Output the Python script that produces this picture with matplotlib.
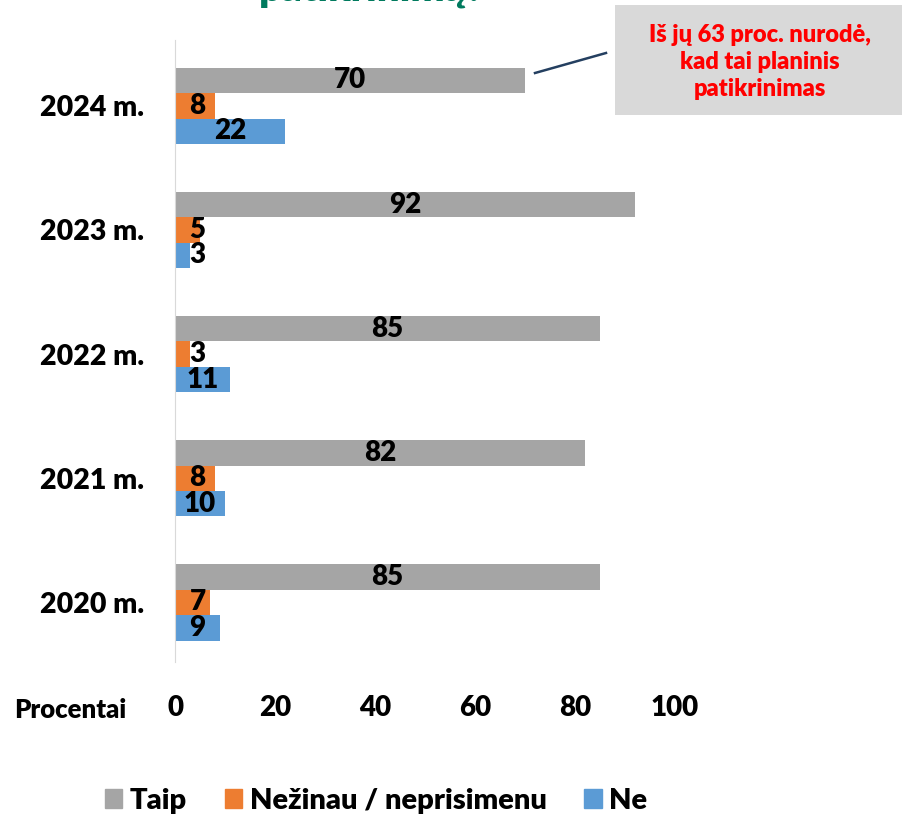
import matplotlib
matplotlib.use("Agg")
import matplotlib.pyplot as plt
from matplotlib.patches import Patch

years = ["2020 m.", "2021 m.", "2022 m.", "2023 m.", "2024 m."]
taip = [85, 82, 85, 92, 70]
nezinau = [7, 8, 3, 5, 8]
ne = [9, 10, 11, 3, 22]
x_ticks = [0, 20, 40, 60, 80, 100]

GRAY = "#A5A5A5"
ORANGE = "#ED7D31"
BLUE = "#5B9BD5"
WT = "heavy"

plt.rcParams["font.family"] = ["Lato", "DejaVu Sans"]

fig = plt.figure(figsize=(9.02, 8.14), dpi=100)
W, H = 902, 814
ax = fig.add_axes([175 / W, 1 - 662 / H, 500 / W, 622 / H])

bh = 0.205
ys = list(range(len(years)))
series = [(taip, GRAY, bh), (nezinau, ORANGE, 0), (ne, BLUE, -bh)]
for vals, color, off in series:
    pos = [y + off for y in ys]
    ax.barh(pos, vals, height=bh, color=color)
    for p, v in zip(pos, vals):
        ax.text(max(v / 2, 4.5), p, str(v), ha="center", va="center",
                fontsize=20, fontweight=WT, color="black")

ax.set_xlim(0, 100)
ax.set_ylim(-0.48, 4.53)
ax.set_yticks(ys)
ax.set_yticklabels(years, fontsize=20.5, fontweight=WT)
ax.set_xticks(x_ticks)
ax.set_xticklabels([str(t) for t in x_ticks], fontsize=20, fontweight=WT)
ax.tick_params(axis="both", length=0)
ax.tick_params(axis="x", pad=24)
ax.tick_params(axis="y", pad=22)
for s in ["top", "right", "bottom"]:
    ax.spines[s].set_visible(False)
ax.spines["left"].set_color("#D9D9D9")

fig.text(70 / W, 1 - 710 / H, "Procentai", ha="center", va="center",
         fontsize=18.5, fontweight=WT)

# title, cut off at the top as in the source
fig.text(372 / W, 1 - 1 / H, "patikrinimą?", ha="center", va="baseline",
         fontsize=29, fontweight=WT, color="#007A5E")

# callout
fig.add_artist(plt.Rectangle((615 / W, 1 - 115 / H), 300 / W, 110 / H,
                             transform=fig.transFigure, facecolor="#D9D9D9",
                             edgecolor="none"))
fig.text(760 / W, 1 - 62 / H,
         "Iš jų 63 proc. nurodė,\nkad tai planinis\npatikrinimas",
         ha="center", va="center", fontsize=17, fontweight=WT, color="#FF0000",
         linespacing=1.3)
fig.add_artist(plt.Line2D([535 / W, 606 / W], [1 - 73 / H, 1 - 53 / H],
                          color="#243F60", linewidth=1.8))

handles = [Patch(color=GRAY, label="Taip"),
           Patch(color=ORANGE, label="Nežinau / neprisimenu"),
           Patch(color=BLUE, label="Ne")]
fig.legend(handles=handles, loc="center", bbox_to_anchor=(376 / W, 1 - 801 / H),
           ncol=3, frameon=False, prop={"size": 21, "weight": WT},
           handlelength=0.6, handleheight=0.6, handletextpad=0.25, columnspacing=1.3)

fig.savefig("out.png", dpi=100)
